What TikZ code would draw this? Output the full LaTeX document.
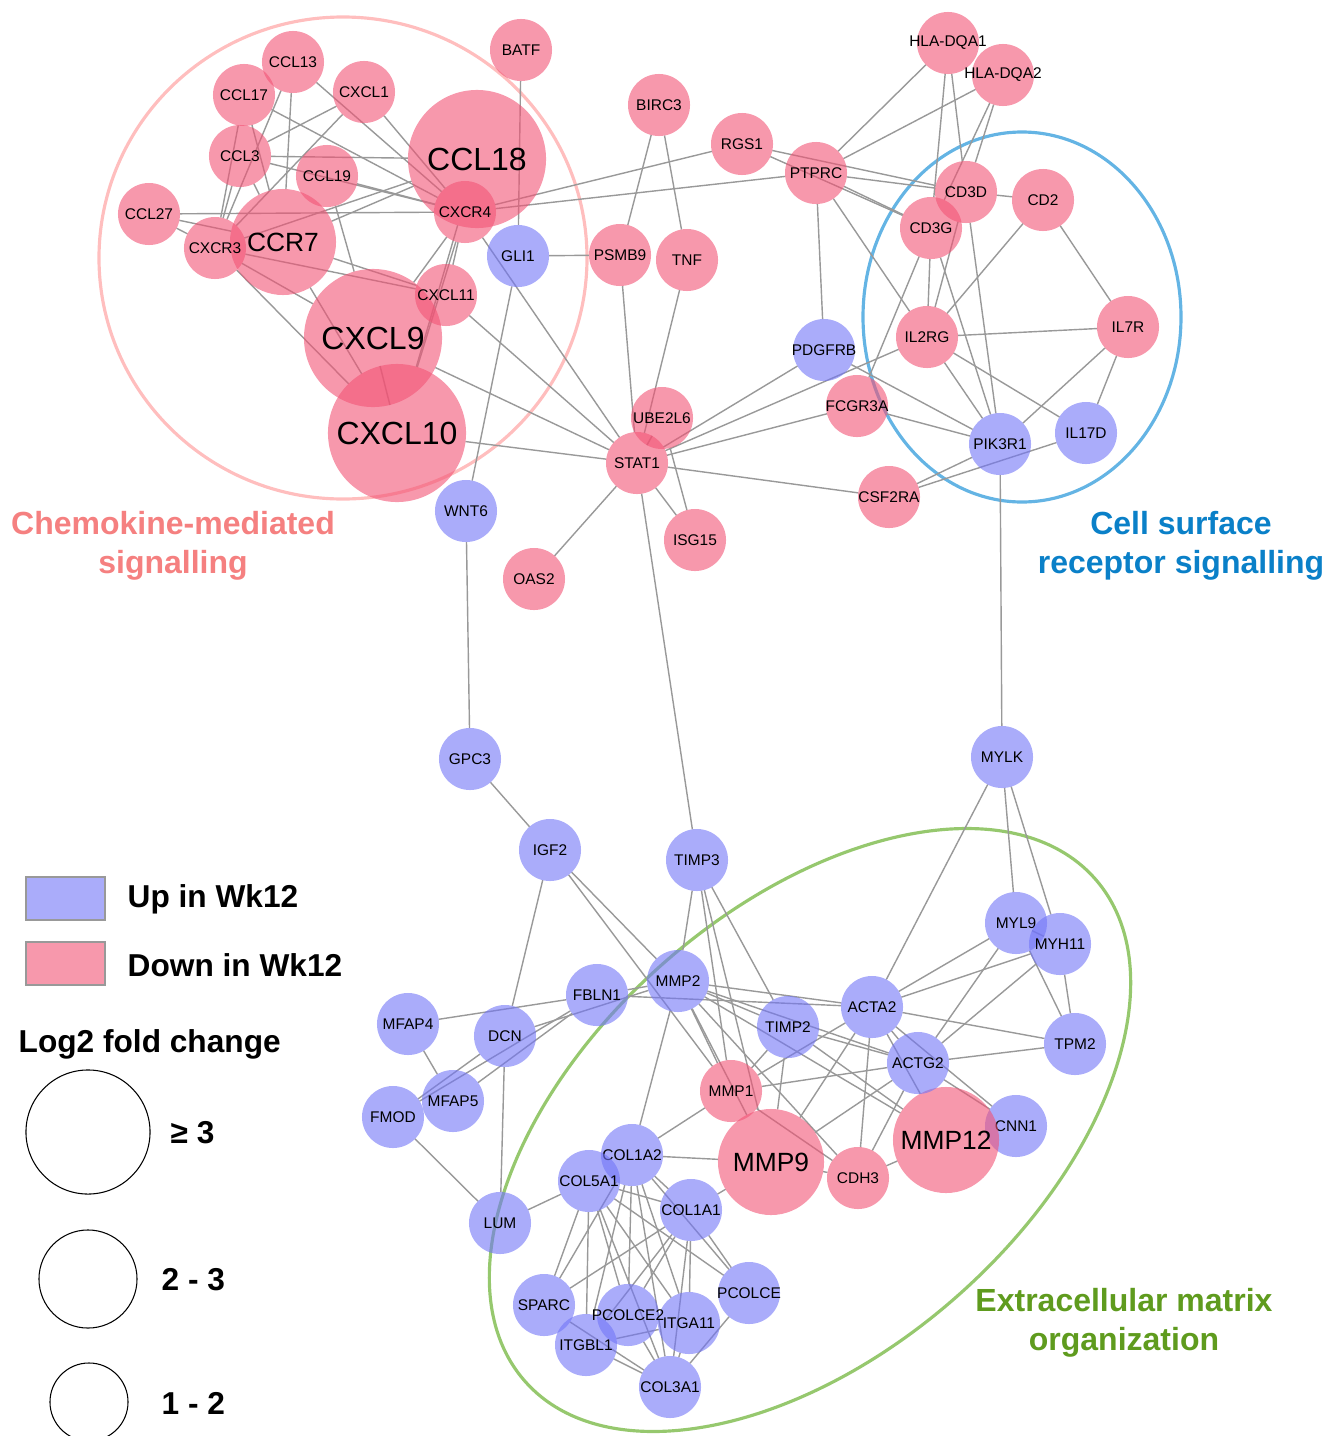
\documentclass[tikz,border=0pt]{standalone}
\usepackage{fontspec}
\setmainfont{Liberation Sans}
\usepackage{tikz}

\pgfdeclarelayer{bg}
\pgfsetlayers{bg,main}

\definecolor{dnfill}{RGB}{242,83,117}
\definecolor{upfill}{RGB}{113,117,247}
\definecolor{chemline}{RGB}{255,190,190}
\definecolor{cellline}{RGB}{100,180,228}
\definecolor{ecmline}{RGB}{150,200,110}
\definecolor{chemtext}{RGB}{245,128,128}
\definecolor{celltext}{RGB}{10,128,200}
\definecolor{ecmtext}{RGB}{95,155,30}

\tikzset{
gnode/.style = {circle, fill opacity=0.6, text opacity=1, inner sep=0pt,
                outer sep=0pt, minimum size=0.62cm,
                font=\fontsize{4.4}{5}\selectfont},
}
% label of fixed width zero, so the circle keeps its size
\newcommand{\gname}[1]{\makebox[0pt]{#1}}

\begin{document}
\begin{tikzpicture}[x=0.01cm, y=-0.01cm,
D/.style={gnode, fill=dnfill},
U/.style={gnode, fill=upfill},
M/.style={minimum size=1.06cm, font=\fontsize{7.5}{9}\selectfont},
L/.style={minimum size=1.38cm, font=\fontsize{9.1}{11}\selectfont},
ln/.style={draw=black!40, line width=0.4pt},
grp/.style={line width=0.9pt},
lab/.style={font=\fontsize{9.1}{11.1}\selectfont\bfseries, align=center},
leg/.style={font=\fontsize{9}{11}\selectfont\bfseries, anchor=west, inner sep=0pt}]
\useasboundingbox (0,0) rectangle (1327,1436);
%
% large circles first
\node[D,L] at (477,159) (CCL18) {\gname{CCL18}};
\node[D,L] at (373,338) (CXCL9) {\gname{CXCL9}};
\node[D,L] at (397,433) (CXCL10) {\gname{CXCL10}};
\node[D,M] at (283,242) (CCR7) {\gname{CCR7}};
\node[D,M] at (771,1162) (MMP9) {\gname{MMP9}};
\node[U] at (1016,1126) (CNN1) {\gname{CNN1}};
\node[D,M] at (946,1140) (MMP12) {\gname{MMP12}};

% chemokines
\node[D] at (293,62) (CCL13) {\gname{CCL13}};
\node[D] at (244,95) (CCL17) {\gname{CCL17}};
\node[D] at (364,92) (CXCL1) {\gname{CXCL1}};
\node[D] at (521,50) (BATF) {\gname{BATF}};
\node[D] at (240,156) (CCL3) {\gname{CCL3}};
\node[D] at (327,176) (CCL19) {\gname{CCL19}};
\node[D] at (149,214) (CCL27) {\gname{CCL27}};
\node[D] at (215,248) (CXCR3) {\gname{CXCR3}};
\node[D] at (465,212) (CXCR4) {\gname{CXCR4}};
\node[U] at (518,256) (GLI1) {\gname{GLI1}};
\node[D] at (446,295) (CXCL11) {\gname{CXCL11}};
\node[U] at (466,511) (WNT6) {\gname{WNT6}};

% STAT1 hub
\node[D] at (659,105) (BIRC3) {\gname{BIRC3}};
\node[D] at (742,144) (RGS1) {\gname{RGS1}};
\node[D] at (816,173) (PTPRC) {\gname{PTPRC}};
\node[D] at (620,255) (PSMB9) {\gname{PSMB9}};
\node[D] at (687,260) (TNF) {\gname{TNF}};
\node[D] at (662,418) (UBE2L6) {\gname{UBE2L6}};
\node[D] at (637,463) (STAT1) {\gname{STAT1}};
\node[D] at (695,540) (ISG15) {\gname{ISG15}};
\node[D] at (534,579) (OAS2) {\gname{OAS2}};
\node[U] at (824,350) (PDGFRB) {\gname{PDGFRB}};
\node[D] at (857,406) (FCGR3A) {\gname{FCGR3A}};
\node[D] at (889,497) (CSF2RA) {\gname{CSF2RA}};

% receptors
\node[D] at (948,43) (HLADQA1) {\gname{HLA-DQA1}};
\node[D] at (1003,75) (HLADQA2) {\gname{HLA-DQA2}};
\node[D] at (966,192) (CD3D) {\gname{CD3D}};
\node[D] at (931,228) (CD3G) {\gname{CD3G}};
\node[D] at (1043,200) (CD2) {\gname{CD2}};
\node[D] at (927,337) (IL2RG) {\gname{IL2RG}};
\node[D] at (1128,327) (IL7R) {\gname{IL7R}};
\node[U] at (1000,444) (PIK3R1) {\gname{PIK3R1}};
\node[U] at (1086,433) (IL17D) {\gname{IL17D}};

% matrix
\node[U] at (470,759) (GPC3) {\gname{GPC3}};
\node[U] at (1002,757) (MYLK) {\gname{MYLK}};
\node[U] at (550,850) (IGF2) {\gname{IGF2}};
\node[U] at (697,860) (TIMP3) {\gname{TIMP3}};
\node[U] at (678,981) (MMP2) {\gname{MMP2}};
\node[U] at (597,995) (FBLN1) {\gname{FBLN1}};
\node[U] at (408,1024) (MFAP4) {\gname{MFAP4}};
\node[U] at (505,1036) (DCN) {\gname{DCN}};
\node[U] at (453,1101) (MFAP5) {\gname{MFAP5}};
\node[U] at (393,1117) (FMOD) {\gname{FMOD}};
\node[U] at (788,1027) (TIMP2) {\gname{TIMP2}};
\node[U] at (872,1007) (ACTA2) {\gname{ACTA2}};
\node[U] at (1016,923) (MYL9) {\gname{MYL9}};
\node[U] at (1060,944) (MYH11) {\gname{MYH11}};
\node[U] at (1075,1044) (TPM2) {\gname{TPM2}};
\node[U] at (918,1063) (ACTG2) {\gname{ACTG2}};
\node[D] at (731,1091) (MMP1) {\gname{MMP1}};
\node[D] at (858,1178) (CDH3) {\gname{CDH3}};
\node[U] at (632,1155) (COL1A2) {\gname{COL1A2}};
\node[U] at (589,1181) (COL5A1) {\gname{COL5A1}};
\node[U] at (691,1210) (COL1A1) {\gname{COL1A1}};
\node[U] at (500,1223) (LUM) {\gname{LUM}};
\node[U] at (544,1305) (SPARC) {\gname{SPARC}};
\node[U] at (689,1323) (ITGA11) {\gname{ITGA11}};
\node[U] at (586,1345) (ITGBL1) {\gname{ITGBL1}};
\node[U] at (628,1315) (PCOLCE2) {\gname{PCOLCE2}};
\node[U] at (749,1293) (PCOLCE) {\gname{PCOLCE}};
\node[U] at (670,1387) (COL3A1) {\gname{COL3A1}};

\begin{pgfonlayer}{bg}
\draw[grp, draw=chemline] (343,258) ellipse [x radius=244, y radius=241];
\draw[grp, draw=cellline] (1022,317) ellipse [x radius=159, y radius=185];
\draw[grp, draw=ecmline, rotate around={41.4:(810,1130)}] (810,1130) ellipse [x radius=380, y radius=222];

\foreach \a/\b in {CCL13/CCR7, CCL13/CXCR3, CCL13/CXCR4, CCL17/CXCR3, CCL17/CCR7,
  CCL17/CXCR4, CXCL1/CCL3, CXCL1/CXCR3, CXCL1/CXCR4, CCL3/CCL18, CCL3/CXCR4,
  CCL3/CXCR3, CCL3/CCR7, CCL19/CXCR4, CCL19/CXCL9, CCL27/CXCR4, CCL27/CXCR3,
  CCL27/CCR7, CXCR3/CCL18, CCR7/CCL18, CXCR3/CXCL11, CCR7/CXCL11, CXCR3/CXCL9,
  CXCR3/CXCL10, CCR7/CXCL10, CXCL9/CXCL10, CXCR4/CXCL11, CXCR4/CXCL9,
  CXCR4/CXCL10, CCL18/CXCL10, CXCR4/RGS1, CXCR4/PTPRC, CXCR4/STAT1, BATF/GLI1,
  GLI1/PSMB9, GLI1/WNT6, CXCL11/STAT1, CXCL9/STAT1, CXCL10/STAT1}
  \draw[ln] (\a) -- (\b);

\foreach \a/\b in {BIRC3/PSMB9, BIRC3/TNF, PSMB9/STAT1, TNF/STAT1, STAT1/UBE2L6,
  UBE2L6/ISG15, STAT1/ISG15, STAT1/OAS2, STAT1/TIMP3, STAT1/PDGFRB, STAT1/IL2RG,
  STAT1/FCGR3A, STAT1/CSF2RA, PTPRC/PDGFRB, PTPRC/HLADQA1, PTPRC/HLADQA2,
  PTPRC/CD3D, PTPRC/CD3G, PTPRC/IL2RG, RGS1/CD3D, RGS1/CD3G, HLADQA1/CD3D,
  HLADQA1/CD3G, HLADQA2/CD3D, HLADQA2/CD3G, CD3D/CD2, CD3D/IL2RG, CD3D/PIK3R1,
  CD3G/IL2RG, CD3G/PIK3R1, CD3G/FCGR3A, CD2/IL2RG, CD2/IL7R, IL2RG/IL7R,
  IL2RG/PIK3R1, IL2RG/IL17D, PDGFRB/PIK3R1, FCGR3A/PIK3R1, IL7R/PIK3R1,
  IL7R/IL17D, PIK3R1/CSF2RA, IL17D/CSF2RA, PIK3R1/MYLK}
  \draw[ln] (\a) -- (\b);

\foreach \a/\b in {WNT6/GPC3, GPC3/IGF2, IGF2/DCN, IGF2/MMP2, IGF2/MMP1,
  TIMP3/MMP2, TIMP3/MMP1, TIMP3/MMP9, TIMP3/TIMP2, FBLN1/MMP2, MFAP4/FBLN1,
  FMOD/FBLN1, MFAP5/FBLN1, DCN/MMP2, MFAP4/MFAP5, FMOD/DCN, DCN/LUM, FMOD/LUM,
  LUM/COL5A1, FBLN1/ACTA2, MMP2/ACTA2, MMP2/TIMP2, MMP2/ACTG2, MMP2/MMP1,
  MMP2/MMP9, MMP2/CDH3, MMP2/COL1A2, MMP2/MMP12, TIMP2/MMP1, TIMP2/MMP9,
  TIMP2/MMP12, TIMP2/ACTG2, MYLK/ACTA2, MYLK/MYL9, MYLK/MYH11, MYL9/MYH11,
  MYL9/TPM2, MYH11/TPM2, ACTA2/MYL9, ACTA2/MYH11, ACTA2/TPM2, ACTA2/ACTG2,
  ACTA2/MMP1, ACTA2/MMP9, ACTA2/CDH3, ACTA2/MMP12, ACTA2/CNN1, ACTG2/MYL9,
  ACTG2/MYH11, ACTG2/TPM2, ACTG2/MMP1, ACTG2/MMP9, ACTG2/CDH3, ACTG2/CNN1,
  MMP1/COL1A2, MMP1/CDH3, MMP9/COL1A2, MMP9/COL1A1, MMP9/CDH3, CDH3/MMP12}
  \draw[ln] (\a) -- (\b);

\foreach \a/\b in {COL1A2/COL1A1, COL1A2/SPARC, COL1A2/PCOLCE2, COL1A2/ITGA11,
  COL1A2/PCOLCE, COL1A2/ITGBL1, COL1A2/COL3A1, COL5A1/COL1A1, COL5A1/SPARC,
  COL5A1/ITGBL1, COL5A1/PCOLCE2, COL5A1/ITGA11, COL5A1/COL3A1, COL5A1/PCOLCE,
  COL1A1/SPARC, COL1A1/PCOLCE2, COL1A1/ITGA11, COL1A1/COL3A1, COL1A1/PCOLCE,
  COL1A1/ITGBL1, SPARC/COL3A1, ITGBL1/COL3A1, PCOLCE2/COL3A1, ITGA11/COL3A1,
  PCOLCE/COL3A1, ITGBL1/ITGA11}
  \draw[ln] (\a) -- (\b);
\end{pgfonlayer}

% group names
\node[lab, text=chemtext] at (173,546) (chemlab) {Chemokine-mediated\\signalling};
\node[lab, text=celltext] at (1181,546) (celllab) {Cell surface\\receptor signalling};
\node[lab, text=ecmtext] at (1124,1323) (ecmlab) {Extracellular matrix\\organization};

% legend
\node[draw=black!40, fill=upfill, fill opacity=0.6, minimum width=0.79cm, minimum height=0.43cm, inner sep=0pt] at (65.5,898.5) (upkey) {};
\node[leg] at (127,899) (uptxt) {Up in Wk12};
\node[draw=black!40, fill=dnfill, fill opacity=0.6, minimum width=0.79cm, minimum height=0.43cm, inner sep=0pt] at (65.5,963.5) (dnkey) {};
\node[leg] at (127,965) (dntxt) {Down in Wk12};
\node[leg] at (18,1044) (fctxt) {Log2 fold change};

\node[draw, circle, line width=0.3pt, minimum size=1.24cm, inner sep=0pt] at (88,1132) (fc3) {};
\node[leg] at (170,1133) (fc3txt) {≥ 3};
\node[draw, circle, line width=0.3pt, minimum size=0.98cm, inner sep=0pt] at (88,1279) (fc2) {};
\node[leg] at (161,1280) (fc2txt) {2 - 3};
\node[draw, circle, line width=0.3pt, minimum size=0.78cm, inner sep=0pt] at (89,1402) (fc1) {};
\node[leg] at (161,1403) (fc1txt) {1 - 2};

\end{tikzpicture}
\end{document}
